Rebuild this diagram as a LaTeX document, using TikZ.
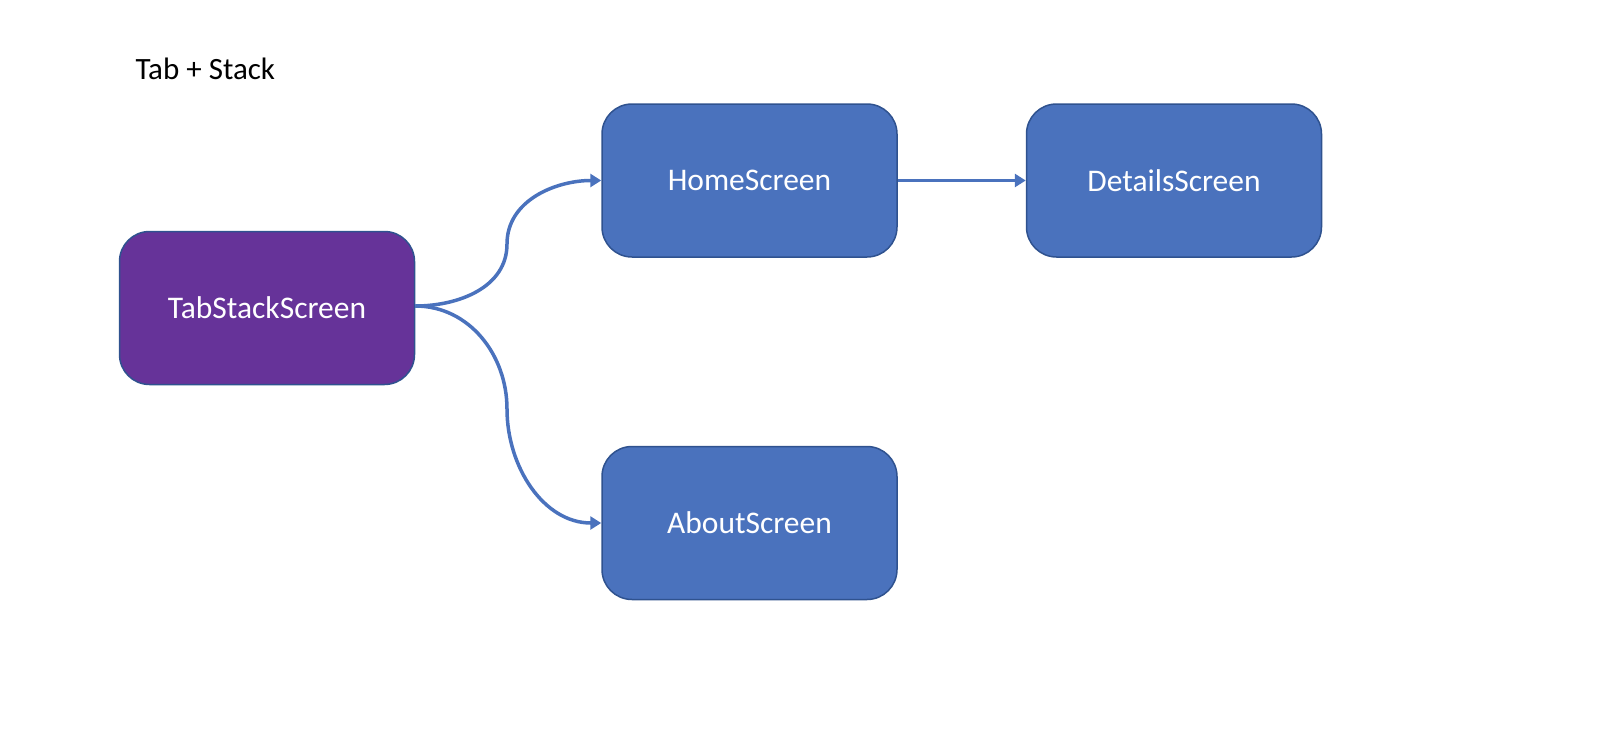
\documentclass[tikz,border=0pt]{standalone}
\usepackage{fontspec}
\setmainfont{Carlito}
\usetikzlibrary{positioning}
\usetikzlibrary {arrows.meta}
\definecolor{screenblue}{HTML}{4A72BD}
\definecolor{screenpurple}{HTML}{663399}
\definecolor{screenedge}{HTML}{2F528F}
\tikzset{screen/.style={rectangle,rounded corners=30pt,draw=screenedge,fill=screenblue,
line width=1.5pt,text=white,inner sep=2pt,minimum height=153pt, minimum width=295pt,
font=\fontsize{31.5}{37}\selectfont}}
\tikzset{screenlink/.style={draw=screenblue,line width=3.5pt,
-{Triangle[length=11pt,width=13pt]}}}

\begin{document}
\begin{tikzpicture}[x=1pt,y=1pt]

        \useasboundingbox (0,0) rectangle (1604,-734);

        \node[anchor=base west,font=\fontsize{31}{37}\selectfont] (title) at (132,-79) {Tab + Stack};

        \node[screen,fill=screenpurple] (boxTab) at (267,-308) {TabStackScreen};
        \node[screen] (boxHome) at (749.5,-180.5) {HomeScreen};
        \node[screen] (boxDetails) [right=128pt of boxHome] {DetailsScreen};
        \node[screen] (boxAbout) [below=188pt of boxHome] {AboutScreen};

        \coordinate (bendHome) at (507,-244);
        \coordinate (bendAbout) at (507,-409);

        \draw [screenlink] ([yshift=2pt]boxTab.east) to[out=0,in=-90] (bendHome) to[out=90,in=180] (boxHome.west);
        \draw [screenlink] ([yshift=2pt]boxTab.east) to[out=0,in=90] (bendAbout) to[out=-90,in=180] (boxAbout.west);
        \draw [screenlink] (boxHome.east) -- (boxDetails.west);

    \end{tikzpicture}
\end{document}
